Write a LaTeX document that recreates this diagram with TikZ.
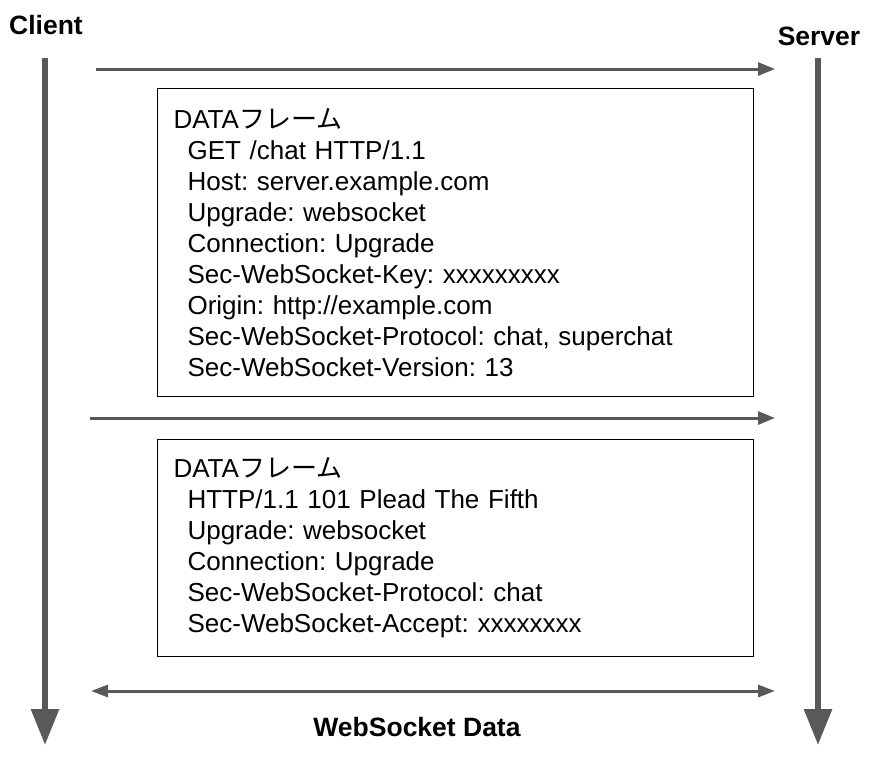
\documentclass[tikz,border=0pt]{standalone}
\usepackage{fontspec}
\setmainfont{Liberation Sans}
\newfontfamily\jpfont{Noto Sans CJK JP}
\usepackage{xcolor}
\usetikzlibrary{arrows.meta,positioning}

\definecolor{linegray}{HTML}{595959}
\newcommand{\fld}{\hspace*{14pt}}
\frenchspacing

\begin{document}
\begin{tikzpicture}[x=1pt, y=-1pt,
  node distance=42pt,
  actor/.style={font=\bfseries\fontsize{26.5}{30}\selectfont},
  lifeline/.style={draw=linegray, line width=6pt, -{Triangle[length=36pt, width=27pt]}},
  msg/.style={draw=linegray, line width=3pt, -{Triangle[length=17pt, width=13pt]}},
  both/.style={draw=linegray, line width=3pt, {Triangle[length=17pt, width=12pt]}-{Triangle[length=17pt, width=12pt]}},
  frame/.style={rectangle, draw, line width=1.1pt, anchor=north west, minimum width=596pt, text width=564pt, inner xsep=16pt, align=left, font=\fontsize{26}{31}\selectfont}
]
\useasboundingbox (0,0) rectangle (875,761);

% participants
\node[actor] (client) at (46,25) {Client};
\node[actor] (server) at (819,36) {Server};
\coordinate (ctop) at (45,58);
\coordinate (cbot) at (45,745);
\coordinate (stop) at (818,58);
\coordinate (sbot) at (818,745);
\draw[lifeline] (ctop) -- (cbot);
\draw[lifeline] (stop) -- (sbot);

% handshake request
\coordinate (req1) at (96,69);
\coordinate (req2) at (775,69);
\draw[msg] (req1) -- (req2);
\node[frame, minimum height=308pt] (request) at (157,88) {DATA{\jpfont フレーム}\\
\fld GET /chat HTTP/1.1\\
\fld Host: server.example.com\\
\fld Upgrade: websocket\\
\fld Connection: Upgrade\\
\fld Sec-WebSocket-Key: xxxxxxxxx\\
\fld Origin: http://example.com\\
\fld Sec-WebSocket-Protocol: chat, superchat\\
\fld Sec-WebSocket-Version: 13};

% handshake response
\coordinate (res1) at (90,418);
\coordinate (res2) at (775,418);
\draw[msg] (res1) -- (res2);
\node[frame, minimum height=217pt, below=of request.south west, anchor=north west] (response) {DATA{\jpfont フレーム}\\
\fld HTTP/1.1 101 Plead The Fifth\\
\fld Upgrade: websocket\\
\fld Connection: Upgrade\\
\fld Sec-WebSocket-Protocol: chat\\
\fld Sec-WebSocket-Accept: xxxxxxxx};

% data exchange
\coordinate (dat1) at (91,691);
\coordinate (dat2) at (775,691);
\draw[both] (dat1) -- (dat2);
\node[actor] (data) at (417,727) {WebSocket Data};
\end{tikzpicture}
\end{document}
